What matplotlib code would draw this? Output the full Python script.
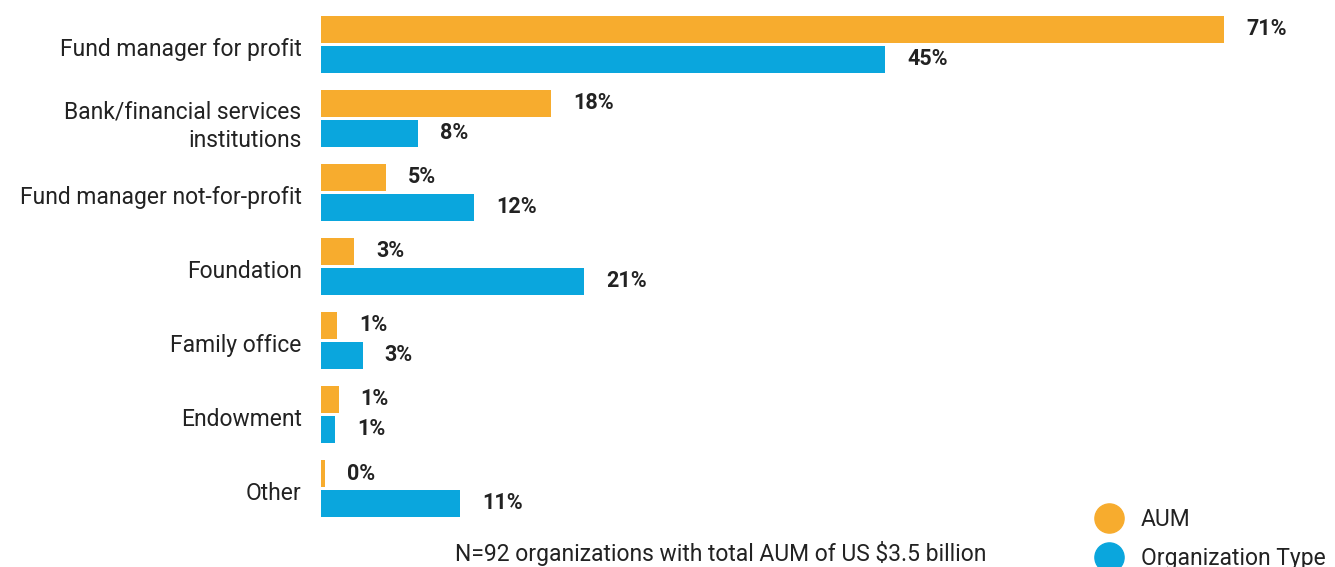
import numpy as np
import matplotlib
matplotlib.use("Agg")
import matplotlib.pyplot as plt
import matplotlib.transforms as mtransforms
from matplotlib.lines import Line2D

# Data (percent)
categories = ["Fund manager for profit", "Bank/financial services\ninstitutions",
              "Fund manager not-for-profit", "Foundation", "Family office",
              "Endowment", "Other"]
aum = [71.4, 18.2, 5.1, 2.6, 1.3, 1.4, 0.3]
org_type = [44.6, 7.7, 12.1, 20.8, 3.3, 1.1, 11.0]
series_names = ["AUM", "Organization Type"]
note = "N=92 organizations with total AUM of US $3.5 billion"

ORANGE = "#F7AC2E"
BLUE = "#0AA6DD"
TEXT = "#222222"

plt.rcParams['font.family'] = ['Liberation Sans Narrow', 'Roboto', 'DejaVu Sans']

W, H = 1335, 567
fig = plt.figure(figsize=(W / 100, H / 100), dpi=100)
x0 = 321
ax = fig.add_axes([x0 / W, 0, 1 - x0 / W, 1])

px_per_pct = 12.65
ax.set_xlim(0, (W - x0) / px_per_pct)
gap = 74.0
ax.set_ylim((H - 44.5) / gap, -44.5 / gap)

y = np.arange(len(categories))
bh = 27 / gap
off = 15 / gap
bars_a = ax.barh(y - off, aum, height=bh, color=ORANGE)
bars_o = ax.barh(y + off, org_type, height=bh, color=BLUE)

for bars, vals in ((bars_a, aum), (bars_o, org_type)):
    for b, v in zip(bars, vals):
        ax.annotate(f"{v:.0f}%", (b.get_width(), b.get_y() + b.get_height() / 2),
                    xytext=(22, 0), textcoords="offset pixels",
                    ha="left", va="center", fontsize=15.5, fontweight="bold", color=TEXT)

ax.set_yticks(y)
ax.set_yticklabels(categories, fontsize=16.5, color=TEXT, linespacing=1.33)
ax.tick_params(axis="y", length=0, pad=14)
# nudge category labels a little lower, like the original
shift = mtransforms.ScaledTranslation(0, -2.5 / 100, fig.dpi_scale_trans)
for lbl in ax.get_yticklabels():
    lbl.set_transform(lbl.get_transform() + shift)
ax.set_xticks([])
for s in ax.spines.values():
    s.set_visible(False)

fig.text(721 / W, 1 - 553 / H, note, ha="center", va="center", fontsize=16.5, color=TEXT)

handles = [Line2D([], [], marker="o", linestyle="", markersize=21, color=c)
           for c in (ORANGE, BLUE)]
fig.legend(handles, series_names, loc="upper left",
           bbox_to_anchor=(1094 / W, 1 - 508 / H), frameon=False,
           fontsize=16.5, labelcolor=TEXT, handletextpad=0.75, labelspacing=0.68,
           borderpad=0, borderaxespad=0, handlelength=1.3)

fig.savefig("out.png", dpi=100)
